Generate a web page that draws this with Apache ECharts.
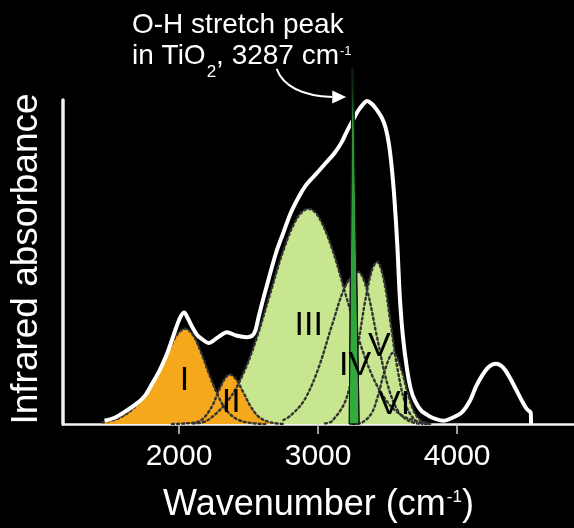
<!DOCTYPE html>
<html><head><meta charset="utf-8">
<script src="https://cdn.jsdelivr.net/npm/echarts@6/dist/echarts.min.js"></script>
<style>html,body{margin:0;padding:0;background:#000;}#c{width:574px;height:528px;}</style>
</head><body><div id="c"></div>
<script>
// ---- data ----
const tickValues = [2000, 3000, 4000];
const xRange = [1166, 4840];

// measured spectrum (white)
const spectrum = [[1465,.01],[1540,.02],[1601,.035],[1705,.066],[1760,.09],[1809,.126],[1860,.165],[1914,.217],[1950,.26],[1980,.298],[2010,.33],[2037,.344],[2065,.325],[2097,.298],[2130,.275],[2163,.263],[2214,.25],[2250,.258],[2281,.268],[2345,.283],[2411,.273],[2489,.268],[2525,.272],[2550,.29],[2575,.335],[2620,.409],[2699,.53],[2750,.59],[2804,.652],[2860,.7],[2908,.734],[2960,.76],[3011,.784],[3060,.808],[3116,.835],[3170,.87],[3209,.905],[3248,.936],[3287,.966],[3320,.985],[3352,.997],[3391,.986],[3425,.968],[3457,.946],[3485,.915],[3509,.865],[3530,.79],[3549,.694],[3570,.55],[3588,.39],[3610,.27],[3640,.167],[3665,.11],[3692,.076],[3740,.042],[3797,.025],[3850,.015],[3901,.01],[3960,.018],[4032,.035],[4090,.07],[4136,.116],[4180,.15],[4215,.171],[4250,.183],[4281,.186],[4315,.18],[4346,.166],[4385,.138],[4424,.106],[4465,.072],[4503,.045],[4529,.035],[4531,0]];

// fitted components
const compI   = [[1450,.005],[1550,.015],[1650,.04],[1750,.085],[1850,.162],[1925,.225],[1990,.278],[2045,.294],[2100,.275],[2160,.219],[2220,.15],[2280,.088],[2340,.043],[2420,.014],[2520,.003],[2620,0]];
const compII  = [[1950,0],[2050,.002],[2150,.009],[2230,.049],[2286,.103],[2330,.14],[2366,.153],[2410,.138],[2460,.1],[2520,.051],[2580,.02],[2660,.005],[2760,0]];
const compIII = [[2100,.002],[2200,.01],[2350,.071],[2450,.144],[2550,.254],[2650,.394],[2750,.535],[2850,.636],[2931,.664],[3000,.642],[3100,.542],[3200,.397],[3300,.252],[3400,.139],[3500,.067],[3600,.027],[3700,.01],[3800,.002]];
const compIV  = [[2750,.012],[2800,.025],[2900,.073],[3000,.169],[3100,.305],[3200,.429],[3286,.47],[3350,.416],[3420,.276],[3500,.121],[3580,.036],[3660,.008],[3750,0]];
const compV   = [[3050,.002],[3100,.009],[3200,.075],[3280,.228],[3340,.383],[3390,.479],[3424,.5],[3470,.45],[3520,.315],[3570,.172],[3630,.06],[3700,.011],[3780,0]];
const compVI  = [[3250,0],[3300,.002],[3380,.03],[3430,.086],[3480,.166],[3540,.22],[3600,.166],[3650,.086],[3700,.03],[3760,.005],[3820,0]];

const componentNames = ['I','II','III','IV','V','VI'];
const labelX = [2039, 2376, 2933, 3266, 3440, 3547];
const labelY = [0.133, 0.067, 0.303, 0.18, 0.24, 0.06];

// narrow O-H peak in TiO2 (green wedge)
const ohPeakX = [3224, 3295, 3254, 3243];
const ohPeakY = [0, 0, 1.10, 1.10];

// annotation arrow: start, control, end, tip, head-top, head-bottom
const arrowX = [2702, 2774, 3102, 3202, 3102, 3102];
const arrowY = [1.096, 1.015, 1.009, 1.009, 1.029, 0.989];

// ---- chart ----
const ORANGE = '#f6a81d';
const LGREEN = '#c7e68f';
const FONT = 'Liberation Sans, Arial, Helvetica, sans-serif';

function fill(data, color) {
  return { type: 'line', data, smooth: 0.35, symbol: 'none', silent: true, z: 2,
    lineStyle: { width: 0, opacity: 0 }, areaStyle: { color, opacity: 1 } };
}
function dots(data) {
  return { type: 'line', data, smooth: 0.35, symbol: 'none', silent: true, z: 3,
    lineStyle: { width: 2.4, color: '#333', type: [2, 3], cap: 'round' } };
}

const chart = echarts.init(document.getElementById('c'), null, { renderer: 'canvas' });
chart.setOption({
  backgroundColor: '#000',
  animation: false,
  title: {
    left: 127, top: 6,
    text: '{a|O-H stretch peak}\n{a|in TiO}{sub|2}{a|, 3287 cm}{sup|-1}',
    textStyle: {
      fontWeight: 'normal',
      rich: {
        a: { fontFamily: FONT, fontSize: 28, fontWeight: 'normal', color: '#fff', lineHeight: 31, verticalAlign: 'top' },
        sub: { fontFamily: FONT, fontSize: 17, fontWeight: 'normal', color: '#fff', lineHeight: 17, verticalAlign: 'top', padding: [22, 0, 0, 1] },
        sup: { fontFamily: FONT, fontSize: 13, fontWeight: 'normal', color: '#fff', lineHeight: 13, verticalAlign: 'top', padding: [3, 0, 0, 1] }
      }
    }
  },
  grid: { left: 60, right: 0, top: 100, bottom: 95, containLabel: false },
  xAxis: {
    type: 'value', min: xRange[0], max: xRange[1],
    axisLine: { show: true, onZero: false, lineStyle: { color: '#f2f2f2', width: 2.5 } },
    axisTick: { show: true, length: 10, customValues: tickValues, lineStyle: { color: '#cfcfcf', width: 1.5 } },
    axisLabel: { customValues: tickValues, formatter: v => String(v), color: '#fff', fontFamily: FONT, fontSize: 30, margin: 18 },
    splitLine: { show: false },
    name: '{a|Wavenumber (cm}{sup|-1}{a|)}',
    nameLocation: 'middle', nameGap: 63,
    nameTextStyle: {
      rich: {
        a: { fontFamily: FONT, fontSize: 36, color: '#fff', lineHeight: 36, verticalAlign: 'top' },
        sup: { fontFamily: FONT, fontSize: 17, color: '#fff', lineHeight: 17, verticalAlign: 'top', padding: [2, 0, 0, 1] }
      }
    }
  },
  yAxis: {
    type: 'value', min: 0, max: 1,
    axisLine: { show: true, lineStyle: { color: '#f2f2f2', width: 3.5 } },
    axisTick: { show: false }, axisLabel: { show: false }, splitLine: { show: false },
    name: 'Infrared absorbance', nameLocation: 'middle', nameGap: 18, nameRotate: 90,
    nameTextStyle: { fontFamily: FONT, fontSize: 37, color: '#fff', padding: [0, 0, 0, 6] }
  },
  series: [
    fill(compIII, LGREEN), fill(compIV, LGREEN), fill(compV, LGREEN), fill(compVI, LGREEN),
    fill(compI, ORANGE), fill(compII, ORANGE),
    dots(compI), dots(compII), dots(compIII), dots(compIV), dots(compV), dots(compVI),
    { type: 'line', data: spectrum, smooth: 0.3, symbol: 'none', silent: true, z: 4,
      lineStyle: { color: '#fff', width: 4 } },
    { type: 'custom', coordinateSystem: 'cartesian2d', data: [[ohPeakX[0], 0]], silent: true, clip: false, z: 6,
      renderItem: (params, api) => {
        const pts = ohPeakX.map((x, i) => api.coord([x, ohPeakY[i]]));
        return { type: 'polygon', shape: { points: pts },
          style: { fill: new echarts.graphic.LinearGradient(0, 0, 0, 1, [
              { offset: 0, color: 'rgba(30,110,40,0.3)' },
              { offset: 0.15, color: '#2a9636' },
              { offset: 1, color: '#33ad3e' }]),
            stroke: '#111', lineWidth: 1 } };
      } },
    { type: 'custom', coordinateSystem: 'cartesian2d', data: [[arrowX[0], arrowY[0]]], silent: true, clip: false, z: 6,
      renderItem: (params, api) => {
        const p = arrowX.map((x, i) => api.coord([x, arrowY[i]]));
        return { type: 'group', children: [
          { type: 'bezierCurve', shape: { x1: p[0][0], y1: p[0][1], cpx1: p[1][0], cpy1: p[1][1], x2: p[2][0], y2: p[2][1] },
            style: { stroke: '#fff', lineWidth: 2, fill: null } },
          { type: 'polygon', shape: { points: [p[3], p[4], p[5]] }, style: { fill: '#fff' } }
        ] };
      } }
  ]
});

// component labels placed through the chart's own scales
const labelGraphics = labelX.map((x, i) => {
  const p = chart.convertToPixel({ gridIndex: 0 }, [x, labelY[i]]);
  return { type: 'text', x: p[0], y: p[1], z: 100, silent: true,
    style: { text: componentNames[i], fill: '#000', font: '34px "Liberation Sans", Arial, sans-serif',
      align: 'center', verticalAlign: 'middle' } };
});
chart.setOption({ graphic: { elements: labelGraphics } });
</script></body></html>
